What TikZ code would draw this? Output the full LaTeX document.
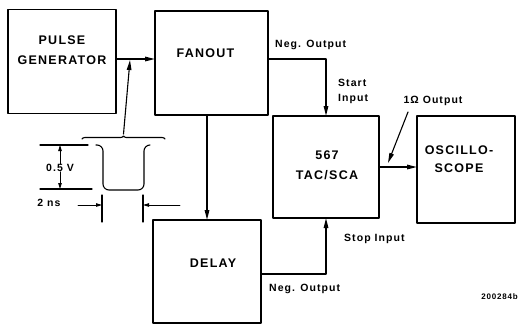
\documentclass[tikz,border=0pt]{standalone}
\usepackage{fontspec}
\setmainfont{Liberation Sans}[LetterSpace=10.0]
\usetikzlibrary{arrows.meta,positioning,calc,decorations.pathreplacing}
\tikzset{
    every picture/.style={line cap=round,line join=round},
    block/.style={draw,line width=1.7pt,minimum width=108pt,minimum height=104pt,
      inner sep=0pt,outer sep=0pt},
    blocktext/.style={font=\fontsize{12.5}{20}\selectfont\bfseries,align=center,inner sep=0pt},
    sigtext/.style={font=\fontsize{10.5}{15}\selectfont\bfseries,align=left,inner sep=0pt},
    flowarrow/.style={-{Triangle[length=10pt,width=4.5pt]},line width=1.3pt},
    thinline/.style={line width=1.1pt},
    dimarrow/.style={-{Triangle[length=6pt,width=3.5pt]},line width=0.9pt}
}
\begin{document}
\begin{tikzpicture}[x=1pt,y=-1pt]
  \useasboundingbox (0,0) rectangle (521,327);
  \node[block] (pulse) at (62,61.5) {};
  \node[blocktext] (pulsetxt) at ([yshift=11pt]pulse.center) {PULSE\\GENERATOR};
  \node[block,minimum width=113pt] (fanout) at (211.5,63) {};
  \node[blocktext] (fanouttxt) at ([xshift=-6pt,yshift=10pt]fanout.center) {FANOUT};
  \node[block,minimum width=106pt,minimum height=102pt] (tac) at (326,167) {};
  \node[blocktext] (tactxt) at ([xshift=1pt,yshift=2pt]tac.center) {567\\TAC/SCA};
  \node[block,minimum width=98pt,minimum height=107pt] (scope) at (466,169.5) {};
  \node[blocktext,font=\fontsize{12.5}{18}\selectfont\bfseries] (scopetxt) at ([xshift=-7pt,yshift=10pt]scope.center) {OSCILLO-\\SCOPE};
  \node[block,minimum height=103pt] (delay) at (207,271.5) {};
  \node[blocktext] (delaytxt) at ([xshift=6pt,yshift=8pt]delay.center) {DELAY};

  \coordinate (pgout) at ([yshift=2.5pt]pulse.east);
  \draw[flowarrow] (pgout) -- (pgout -| fanout.west);
  \draw[flowarrow] ([yshift=4pt]fanout.east) -| (tac.north);
  \draw[flowarrow] (fanout.south -| delay.north) -- (delay.north);
  \draw[flowarrow] ([yshift=-2.5pt]delay.east) -| (tac.south);
  \draw[flowarrow] (tac.east) -- (scope.west |- tac.east);

  \node[sigtext,anchor=west] (negouttop) at (275,45) {Neg. Output};
  \node[sigtext,anchor=west] (startin) at (338,91) {Start\\Input};
  \node[sigtext] (ohmout) at (433,101) {1Ω Output};
  \coordinate (ohmfrom) at (408,112);
  \coordinate (ohmtip) at (388,163);
  \draw[flowarrow,line width=1.1pt] (ohmfrom) -- (ohmtip);
  \node[sigtext,anchor=west] (stopin) at (344,239) {Stop Input};
  \node[sigtext,anchor=west] (negoutbot) at (269,289) {Neg. Output};
  \node[font=\fontsize{8}{9}\selectfont\bfseries,anchor=east,inner sep=0pt] (figno) at (518,297) {200284b};

  \coordinate (hiL) at (40,145);
  \coordinate (hiR) at (88,145);
  \coordinate (loL) at (40,189);
  \coordinate (loR) at (92,189);
  \draw[thinline] (hiL) -- (hiR);
  \draw[thinline] (loL) -- (loR);
  \draw[thinline,rounded corners=6pt] (96,145) -- (103,145) -- (103,190) -- (144,190) -- (144,145) -- (150,145);
  \node[sigtext] (volt) at (60,168) {0.5 V};
  \draw[dimarrow] (volt.north) -- (volt.north |- hiL);
  \draw[dimarrow] (volt.south) -- (volt.south |- loL);

  \node[sigtext] (nsec) at (49,203) {2 ns};
  \coordinate (tickA) at (102,205);
  \coordinate (tickB) at (143,205);
  \draw[thinline] ([yshift=10pt]tickA) -- ([yshift=-17pt]tickA);
  \draw[thinline] ([yshift=10pt]tickB) -- ([yshift=-17pt]tickB);
  \draw[dimarrow] ([xshift=-24pt]tickA) -- (tickA);
  \draw[dimarrow] ([xshift=37pt]tickB) -- (tickB);

  \draw[thinline,decorate,decoration={brace,amplitude=3pt}] (82,139) -- (165,139);
  \coordinate (bracetip) at (123.5,134);
  \coordinate (pulsetap) at (130,60);
  \draw[flowarrow,line width=1.1pt] (bracetip) -- (pulsetap);
\end{tikzpicture}
\end{document}
